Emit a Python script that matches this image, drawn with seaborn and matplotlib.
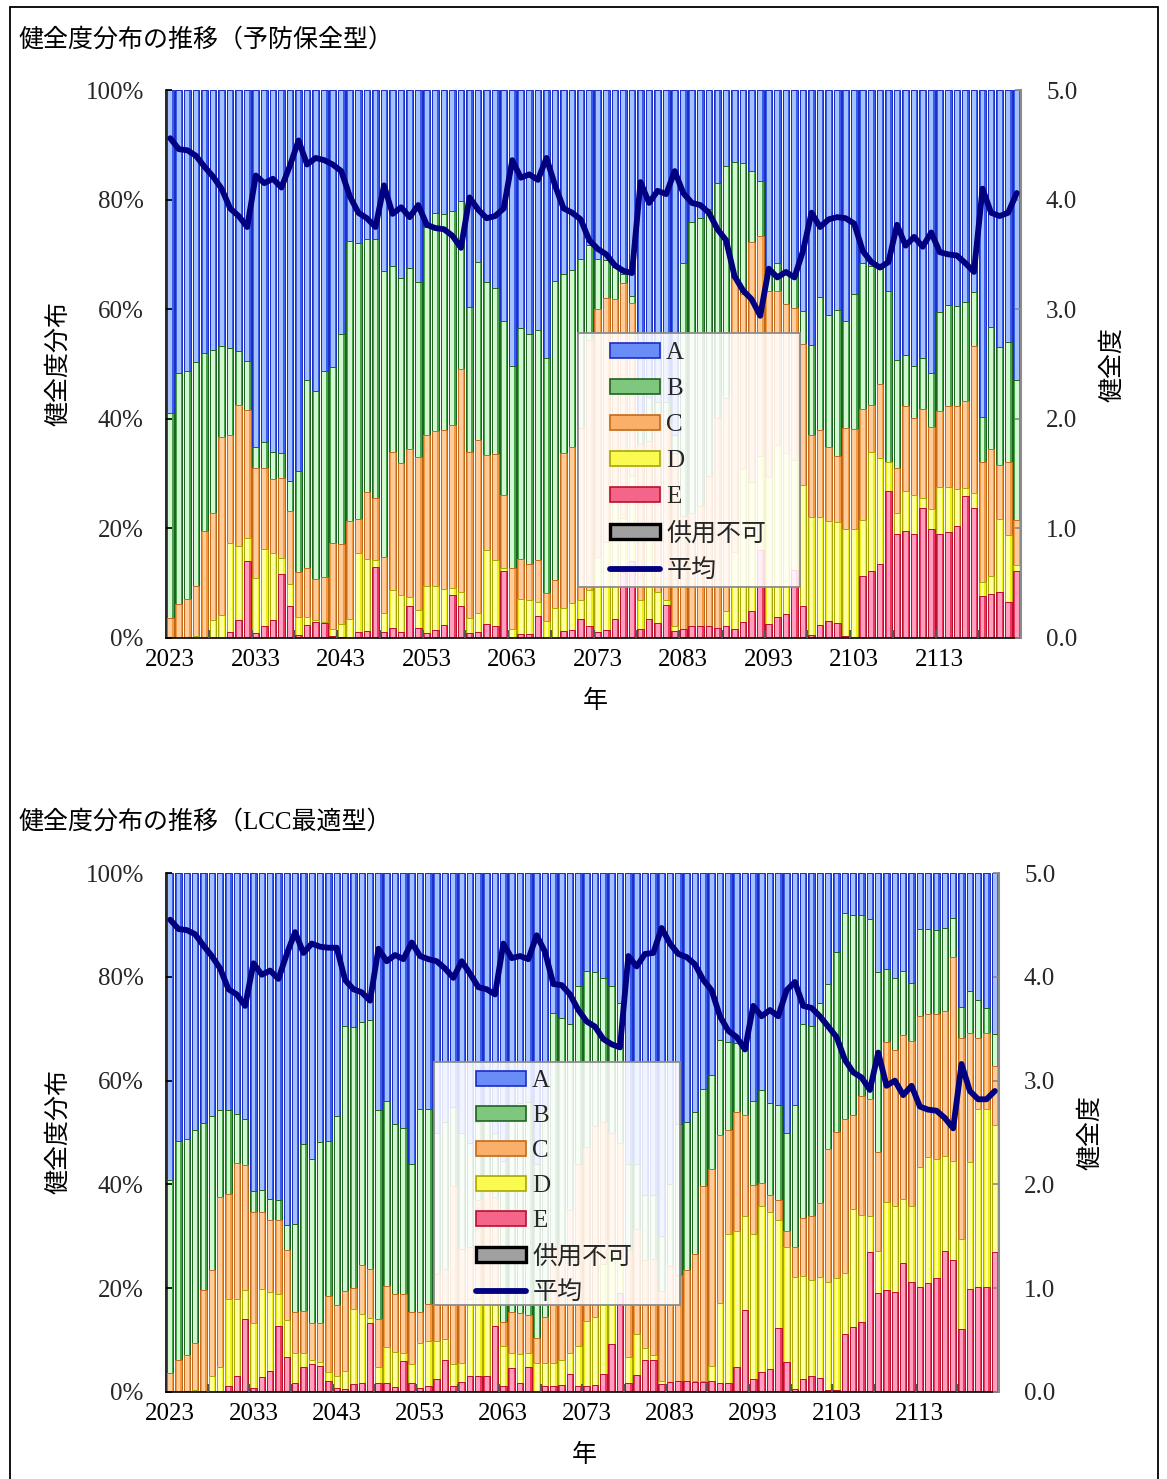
import numpy as np
import pandas as pd
import matplotlib
matplotlib.use("Agg")
import matplotlib.pyplot as plt
from matplotlib.patches import Patch, Rectangle
from matplotlib.lines import Line2D
from matplotlib.ticker import FixedLocator
import seaborn as sns

sns.set_theme(style="white")
plt.rcParams['font.family'] = ['Liberation Serif', 'Noto Sans CJK JP', 'DejaVu Sans']
plt.rcParams['axes.unicode_minus'] = False

# ---------------- data ----------------
years = list(range(2023, 2123))
grades = ["A", "B", "C", "D", "E"]
xtick_years = [2023, 2033, 2043, 2053, 2063, 2073, 2083, 2093, 2103, 2113]
pct_ticks = [0, 20, 40, 60, 80, 100]
pct_labels = ["0%", "20%", "40%", "60%", "80%", "100%"]
mean_ticks = [0, 1, 2, 3, 4, 5]
mean_labels = ["0.0", "1.0", "2.0", "3.0", "4.0", "5.0"]
legend_labels = ["A", "B", "C", "D", "E", "供用不可", "平均"]
title_pm = "健全度分布の推移（予防保全型）"
title_lcc = "健全度分布の推移（LCC最適型）"

# 予防保全型 (shares, %)
pm_A = [59.0, 51.7, 51.2, 49.6, 48.0, 47.5, 46.7, 47.1, 47.7, 49.5,
        65.1, 64.3, 66.1, 66.3, 71.4, 69.6, 52.9, 55.0, 51.3, 50.5,
        44.6, 27.6, 28.0, 27.2, 27.1, 33.1, 32.2, 34.3, 32.5, 35.1,
        25.0, 22.5, 22.7, 22.1, 20.2, 39.6, 31.4, 35.1, 36.1, 42.1,
        50.3, 43.4, 44.6, 43.8, 48.9, 34.9, 33.5, 32.8, 30.8, 28.3,
        30.8, 31.1, 32.3, 33.6, 37.6, 60.0, 56.0, 57.0, 57.0, 63.0,
        31.6, 24.1, 23.3, 21.7, 17.0, 13.9, 13.1, 13.4, 14.7, 16.6,
        32.3, 31.5, 33.0, 34.0, 40.4, 46.6, 37.8, 41.1, 40.1, 42.1,
        37.3, 31.6, 32.1, 32.6, 36.6, 49.3, 48.4, 50.4, 48.9, 51.7,
        40.6, 39.3, 39.4, 38.7, 36.9, 59.7, 43.2, 46.9, 45.9, 52.9]
pm_B = [37.4, 42.1, 41.6, 40.9, 32.4, 29.6, 16.6, 15.9, 9.8, 8.9,
        3.9, 4.7, 4.9, 4.5, 5.5, 18.4, 34.4, 34.2, 37.6, 32.2,
        38.3, 51.1, 50.2, 46.2, 47.3, 52.2, 33.9, 33.8, 33.1, 31.8,
        37.9, 39.8, 39.4, 39.0, 30.7, 26.5, 32.4, 31.5, 30.3, 31.8,
        37.0, 42.1, 41.9, 41.9, 42.9, 54.6, 32.7, 32.3, 30.8, 17.3,
        9.2, 6.8, 5.8, 1.7, 1.3, 4.6, 8.0, 5.1, 4.0, 3.3,
        46.2, 53.0, 52.6, 48.8, 42.8, 42.3, 21.2, 23.9, 13.0, 10.1,
        4.3, 5.1, 6.1, 5.8, 6.0, 16.4, 24.3, 24.0, 26.7, 19.5,
        24.6, 26.6, 25.4, 21.1, 31.2, 19.7, 9.3, 9.4, 9.4, 9.8,
        17.9, 18.4, 18.3, 18.1, 9.8, 8.2, 22.4, 21.5, 21.9, 25.6]
pm_C = [3.6, 6.2, 7.2, 9.1, 19.6, 19.7, 32.5, 19.7, 25.7, 23.4,
        20.1, 14.8, 13.5, 14.6, 13.3, 8.2, 8.9, 7.6, 8.1, 15.7,
        14.5, 17.9, 6.2, 12.1, 11.4, 10.1, 25.1, 24.1, 27.0, 27.9,
        27.7, 28.3, 28.9, 29.7, 40.7, 30.3, 31.7, 17.4, 19.3, 13.3,
        11.1, 7.3, 6.6, 7.8, 5.1, 5.1, 28.4, 28.5, 31.4, 45.7,
        45.3, 44.5, 34.9, 42.8, 31.6, 28.5, 16.4, 29.5, 32.0, 31.6,
        20.5, 20.8, 22.0, 27.4, 38.3, 38.8, 50.0, 31.9, 43.8, 40.0,
        34.0, 28.1, 27.2, 27.8, 25.7, 14.9, 15.8, 13.5, 12.1, 18.6,
        18.3, 20.3, 8.6, 13.4, 0.0, 8.2, 15.5, 14.1, 16.1, 15.0,
        14.0, 14.8, 15.2, 15.9, 26.9, 21.8, 23.1, 9.8, 13.4, 8.2]
pm_D = [0.0, 0.0, 0.0, 0.4, 0.0, 3.2, 4.2, 16.2, 13.6, 4.2,
        10.0, 14.0, 12.2, 2.9, 4.0, 3.3, 1.4, 0.2, 0.3, 1.2,
        2.4, 3.4, 14.5, 13.2, 1.2, 3.5, 6.9, 6.7, 1.6, 3.3,
        8.5, 8.0, 6.6, 1.4, 2.6, 2.7, 3.4, 13.5, 12.1, 0.6,
        1.6, 6.5, 6.2, 2.5, 3.1, 5.4, 4.2, 4.9, 3.6, 6.5,
        13.6, 16.2, 23.6, 9.9, 15.5, 5.2, 16.2, 5.7, 1.0, 0.9,
        0.0, 0.0, 0.0, 0.0, 0.0, 2.9, 14.0, 27.9, 23.6, 17.3,
        26.9, 31.5, 29.3, 20.0, 22.0, 21.5, 19.7, 18.3, 18.4, 19.4,
        19.8, 10.2, 21.6, 19.4, 5.3, 3.8, 7.2, 7.1, 1.8, 3.7,
        8.5, 8.1, 6.7, 1.4, 2.6, 2.6, 3.3, 13.4, 12.2, 1.0]
pm_E = [0.0, 0.0, 0.0, 0.0, 0.0, 0.0, 0.0, 1.1, 3.2, 14.0,
        0.9, 2.2, 3.3, 11.7, 5.8, 0.5, 2.4, 3.0, 2.7, 0.4,
        0.2, 0.0, 1.1, 1.3, 13.0, 1.1, 1.9, 1.1, 5.8, 1.9,
        0.9, 1.4, 2.4, 7.8, 5.8, 0.9, 1.1, 2.5, 2.2, 12.2,
        0.0, 0.7, 0.7, 4.0, 0.0, 0.0, 1.2, 1.5, 3.4, 2.2,
        1.1, 1.4, 3.4, 12.0, 14.0, 1.7, 3.4, 2.7, 6.0, 1.2,
        1.7, 2.1, 2.1, 2.1, 1.9, 2.1, 1.7, 2.9, 4.9, 16.0,
        2.5, 3.8, 4.4, 12.4, 5.9, 0.6, 2.4, 3.1, 2.7, 0.4,
        0.0, 11.3, 12.3, 13.5, 26.9, 19.0, 19.6, 19.0, 23.8, 19.8,
        19.0, 19.4, 20.4, 25.9, 23.8, 7.7, 8.0, 8.4, 6.6, 12.3]
pm_mean = [4.56, 4.46, 4.45, 4.40, 4.30, 4.21, 4.10, 3.92, 3.85, 3.75,
           4.22, 4.15, 4.19, 4.11, 4.31, 4.54, 4.32, 4.38, 4.36, 4.32,
           4.26, 4.03, 3.88, 3.83, 3.75, 4.13, 3.87, 3.93, 3.84, 3.95,
           3.77, 3.74, 3.73, 3.67, 3.56, 4.02, 3.91, 3.83, 3.85, 3.92,
           4.36, 4.20, 4.23, 4.18, 4.38, 4.13, 3.92, 3.88, 3.82, 3.63,
           3.55, 3.50, 3.40, 3.35, 3.33, 4.16, 3.97, 4.08, 4.05, 4.26,
           4.06, 3.97, 3.95, 3.88, 3.73, 3.63, 3.30, 3.17, 3.09, 2.94,
           3.37, 3.29, 3.34, 3.29, 3.53, 3.88, 3.75, 3.82, 3.84, 3.83,
           3.78, 3.53, 3.43, 3.38, 3.43, 3.77, 3.58, 3.66, 3.57, 3.70,
           3.52, 3.50, 3.49, 3.42, 3.34, 4.10, 3.88, 3.85, 3.88, 4.06]

# LCC最適型 (shares, %)
lcc_A = [59.1, 51.7, 51.2, 49.6, 48.1, 46.8, 45.7, 45.7, 46.4, 47.4,
         61.3, 61.1, 62.8, 63.0, 67.8, 67.6, 52.3, 55.1, 51.9, 51.6,
         46.9, 29.5, 29.7, 28.7, 28.3, 45.6, 43.9, 48.4, 49.1, 56.1,
         45.4, 45.4, 50.0, 48.0, 45.0, 50.0, 52.0, 48.0, 47.0, 50.0,
         55.4, 45.7, 44.4, 44.1, 56.0, 45.0, 26.9, 28.0, 29.0, 21.8,
         18.9, 19.0, 20.2, 21.8, 25.1, 56.0, 56.0, 62.0, 62.0, 70.0,
         60.0, 48.4, 47.9, 46.1, 41.6, 38.9, 32.2, 32.6, 32.7, 34.2,
         43.9, 41.8, 44.4, 44.7, 50.1, 44.7, 29.0, 29.5, 25.0, 21.3,
         15.3, 7.8, 8.0, 8.0, 8.8, 19.0, 18.5, 20.3, 18.9, 21.1,
         10.8, 10.8, 11.0, 10.6, 8.6, 25.8, 22.7, 24.5, 26.0, 31.0]
lcc_B = [37.3, 42.2, 41.6, 40.9, 32.2, 29.7, 16.7, 16.1, 9.5, 8.8,
         4.0, 4.2, 4.1, 3.8, 4.8, 16.9, 32.1, 31.7, 34.9, 29.9,
         36.3, 51.0, 50.2, 46.8, 48.0, 40.4, 35.6, 32.7, 32.0, 28.5,
         39.2, 37.6, 27.3, 28.3, 15.4, 22.4, 20.1, 15.0, 14.0, 12.5,
         31.1, 38.8, 40.4, 41.1, 33.5, 40.6, 45.8, 43.4, 36.0, 34.3,
         33.9, 29.8, 27.8, 28.2, 26.9, 16.6, 12.5, 12.6, 12.3, 10.6,
         15.8, 29.1, 28.6, 27.4, 18.8, 18.2, 18.2, 17.0, 13.4, 12.5,
         16.2, 18.0, 17.7, 18.3, 18.9, 27.4, 37.4, 36.6, 38.6, 31.9,
         34.6, 39.6, 38.7, 34.9, 34.8, 34.7, 14.0, 13.9, 12.3, 11.3,
         16.7, 16.4, 16.2, 15.9, 7.6, 5.9, 8.2, 7.2, 4.9, 6.2]
lcc_C = [3.6, 6.1, 7.1, 9.2, 19.7, 20.4, 32.7, 20.2, 26.1, 24.1,
         21.5, 14.8, 13.8, 14.3, 13.6, 8.0, 8.1, 7.1, 7.4, 14.7,
         13.7, 15.4, 4.1, 9.5, 9.4, 9.2, 11.9, 11.1, 11.4, 10.1,
         6.0, 7.2, 12.9, 13.5, 34.3, 22.1, 9.9, 19.0, 22.0, 20.8,
         4.7, 8.0, 7.8, 7.3, 5.0, 8.9, 21.8, 22.5, 27.5, 35.1,
         33.6, 36.7, 27.3, 22.4, 21.9, 20.6, 20.3, 16.9, 18.5, 17.3,
         22.3, 20.4, 21.4, 24.4, 37.5, 37.8, 32.4, 19.9, 22.9, 19.4,
         9.5, 4.4, 3.3, 3.9, 3.1, 5.7, 11.3, 12.4, 14.2, 25.6,
         28.2, 29.7, 18.1, 22.9, 22.5, 19.1, 30.9, 30.0, 31.7, 31.8,
         29.1, 27.5, 27.9, 28.0, 39.2, 38.9, 24.8, 13.7, 14.5, 11.3]
lcc_D = [0.0, 0.0, 0.1, 0.3, 0.0, 3.1, 4.9, 16.9, 14.9, 5.7,
         12.4, 17.1, 15.2, 6.1, 7.0, 5.7, 2.6, 0.8, 0.7, 1.7,
         2.3, 3.6, 14.5, 13.2, 1.1, 3.0, 6.8, 6.9, 1.5, 3.5,
         8.7, 8.7, 7.3, 4.1, 4.2, 3.6, 14.9, 15.0, 14.0, 3.9,
         7.7, 2.8, 5.6, 2.7, 5.5, 4.4, 4.4, 4.8, 4.0, 7.7,
         12.5, 13.2, 21.2, 18.4, 7.1, 5.0, 7.9, 2.4, 1.1, 0.6,
         0.0, 0.0, 0.0, 0.1, 0.1, 3.0, 15.4, 28.7, 26.1, 18.1,
         27.9, 32.0, 30.1, 20.8, 22.1, 21.7, 19.8, 18.4, 19.5, 20.9,
         21.6, 11.7, 22.7, 20.7, 7.0, 8.2, 16.9, 16.5, 12.2, 14.6,
         23.1, 24.3, 23.0, 18.3, 19.1, 17.2, 24.4, 34.4, 34.3, 24.6]
lcc_E = [0.0, 0.0, 0.0, 0.0, 0.0, 0.0, 0.0, 1.1, 3.1, 14.0,
         0.8, 2.8, 4.1, 12.8, 6.8, 1.8, 4.9, 5.3, 5.1, 2.1,
         0.8, 0.5, 1.5, 1.8, 13.2, 1.8, 1.8, 0.9, 6.0, 1.8,
         0.7, 1.1, 2.5, 6.1, 1.1, 1.9, 3.1, 3.0, 3.0, 12.8,
         1.1, 4.7, 1.8, 4.8, 0.0, 1.1, 1.1, 1.3, 3.5, 1.1,
         1.1, 1.3, 3.5, 9.2, 19.0, 1.8, 3.3, 6.1, 6.1, 1.5,
         1.9, 2.1, 2.1, 2.0, 2.0, 2.1, 1.8, 1.8, 4.9, 15.8,
         2.5, 3.8, 4.5, 12.3, 5.8, 0.5, 2.5, 3.1, 2.7, 0.3,
         0.3, 11.2, 12.5, 13.5, 26.9, 19.0, 19.7, 19.3, 24.9, 21.2,
         20.3, 21.0, 21.9, 27.2, 25.5, 12.2, 19.9, 20.2, 20.3, 26.9]
lcc_mean = [4.55, 4.46, 4.45, 4.41, 4.30, 4.20, 4.08, 3.88, 3.83, 3.72,
            4.13, 4.02, 4.06, 3.98, 4.22, 4.43, 4.23, 4.32, 4.29, 4.28,
            4.28, 3.97, 3.88, 3.85, 3.77, 4.27, 4.15, 4.21, 4.17, 4.33,
            4.20, 4.17, 4.15, 4.08, 3.99, 4.15, 4.03, 3.90, 3.88, 3.83,
            4.32, 4.18, 4.20, 4.17, 4.40, 4.24, 3.93, 3.92, 3.83, 3.68,
            3.57, 3.52, 3.40, 3.35, 3.32, 4.20, 4.10, 4.22, 4.23, 4.47,
            4.32, 4.22, 4.19, 4.12, 3.97, 3.87, 3.62, 3.48, 3.42, 3.30,
            3.72, 3.62, 3.68, 3.62, 3.87, 3.95, 3.72, 3.70, 3.62, 3.52,
            3.42, 3.20, 3.08, 3.03, 2.91, 3.27, 2.95, 3.00, 2.86, 2.95,
            2.75, 2.72, 2.71, 2.64, 2.54, 3.16, 2.90, 2.82, 2.82, 2.90]

# ---------------- style ----------------
W, H = 1167, 1479
FS = 18
outer_col = {"A": "#3A5CEC", "B": "#47A347", "C": "#F39A40", "D": "#EFEF18", "E": "#EE3560"}
inner_col = {"A": "#A3C0FF", "B": "#D2F8D2", "C": "#FFCD9C", "D": "#FFFFA0", "E": "#FF9EBE"}
edge_col = {"A": "#1A2CC8", "B": "#1E641E", "C": "#C46A1A", "D": "#A8A800", "E": "#B8102E"}
legend_face = {"A": "#6A8CF6", "B": "#7FC67F", "C": "#FAB068", "D": "#FAFA50", "E": "#F5658A"}
navy = "#000080"

fig = plt.figure(figsize=(W / 100, H / 100), dpi=100)
fig.patch.set_facecolor("white")


def add_axes_px(l, t, r, b):
    return fig.add_axes([l / W, 1 - b / H, (r - l) / W, (b - t) / H])


def px_to_axes(ax_px, x, y):
    l, t, r, b = ax_px
    return (x - l) / (r - l), (b - y) / (b - t)


def draw_panel(ax_px, shares, mean, box_px, handle_xy, spacing):
    ax = add_axes_px(*ax_px)
    df = pd.DataFrame({"year": years})
    for g, vals in zip(grades, shares):
        df[g] = vals
    cum = df[grades[::-1]].cumsum(axis=1)  # E, E+D, E+D+C, ...
    for g in grades:  # tallest stack (A) first, then overlay
        common = dict(x=df["year"], y=cum[g], native_scale=True, errorbar=None,
                      saturation=1, ax=ax)
        sns.barplot(**common, width=0.78, color=outer_col[g], linewidth=0, edgecolor="none")
        sns.barplot(**common, width=0.46, color=inner_col[g], linewidth=0, edgecolor="none")
        sns.barplot(**common, width=0.78, color=edge_col[g], fill=False, linewidth=0.7)

    ax.set_xlim(2022.5, 2122.5)
    ax.set_ylim(0, 100)
    ax.set_xticks(xtick_years)
    ax.set_xticklabels([str(y) for y in xtick_years])
    ax.xaxis.set_minor_locator(FixedLocator(np.arange(2027.5, 2122.5, 5)))
    ax.set_yticks(pct_ticks)
    ax.set_yticklabels(pct_labels)
    ax.yaxis.set_minor_locator(FixedLocator([20, 40, 60, 80]))
    ax.tick_params(axis="x", which="major", length=0, pad=8, labelsize=FS, colors="black")
    ax.tick_params(axis="x", which="minor", direction="in", length=6, width=1.5,
                   color="#555555", bottom=True)
    ax.tick_params(axis="y", which="major", direction="in", length=4, pad=16,
                   labelsize=FS, left=True, color="black")
    ax.tick_params(axis="y", which="minor", length=0)
    ax.grid(False)
    ax.yaxis.grid(True, which="minor", linestyle=(0, (4, 3)), color="#6e6e6e", linewidth=1.1)
    ax.set_axisbelow(False)
    for s in ["top", "right"]:
        ax.spines[s].set_visible(False)
    for s in ["left", "bottom"]:
        ax.spines[s].set_color("black")
        ax.spines[s].set_linewidth(1.2)
    ax.set_xlabel("")
    ax.set_ylabel("")

    ax2 = ax.twinx()
    sns.lineplot(x=df["year"], y=mean, ax=ax2, color=navy, linewidth=4.2,
                 solid_joinstyle="round", solid_capstyle="round")
    ax2.set_xlim(2022.5, 2122.5)
    ax2.set_ylim(0, 5)
    ax2.set_yticks(mean_ticks)
    ax2.set_yticklabels(mean_labels)
    ax2.tick_params(axis="y", direction="in", length=4, color="#8c8c8c", pad=18,
                    labelsize=FS, right=True, left=False)
    ax2.grid(False)
    for s in ["top", "left", "bottom"]:
        ax2.spines[s].set_visible(False)
    ax2.spines["right"].set_color("#8c8c8c")
    ax2.spines["right"].set_linewidth(1.5)
    ax2.set_xlabel("")
    ax2.set_ylabel("")

    # legend box
    bx0, by0 = px_to_axes(ax_px, box_px[0], box_px[3])
    bx1, by1 = px_to_axes(ax_px, box_px[2], box_px[1])
    ax2.add_patch(Rectangle((bx0, by0), bx1 - bx0, by1 - by0, transform=ax2.transAxes,
                            facecolor=(1, 1, 1, 0.86), edgecolor="#8c8c8c",
                            linewidth=1.3, zorder=5, clip_on=False))
    handles = [Patch(facecolor=legend_face[g], edgecolor=edge_col[g], linewidth=1.2) for g in grades]
    handles.append(Patch(facecolor="#a0a0a0", edgecolor="black", linewidth=2.4))
    handles.append(Line2D([], [], color=navy, linewidth=4.2, solid_capstyle="round"))
    hx, hy = px_to_axes(ax_px, *handle_xy)
    leg = ax2.legend(handles, legend_labels, loc="upper left", bbox_to_anchor=(hx, hy),
                     bbox_transform=ax2.transAxes, frameon=False, fontsize=FS,
                     handlelength=2.0, handleheight=0.55, handletextpad=0.25,
                     labelspacing=spacing, borderpad=0, borderaxespad=0)
    leg.set_zorder(6)
    return ax, ax2


# top panel
draw_panel((166, 90, 1021, 638), [pm_A, pm_B, pm_C, pm_D, pm_E], pm_mean,
           (578, 333, 800, 587), (610, 342), 0.56)
# bottom panel
draw_panel((166, 873, 999, 1392), [lcc_A, lcc_B, lcc_C, lcc_D, lcc_E], lcc_mean,
           (434, 1062, 680, 1305), (476, 1070), 0.52)


def ftext(x, y, s, **kw):
    fig.text(x / W, 1 - y / H, s, fontsize=FS, color="black", **kw)


ftext(18, 40, title_pm, ha="left", va="center")
ftext(58, 364, "健全度分布", ha="center", va="center", rotation=90)
ftext(1112, 364, "健全度", ha="center", va="center", rotation=90)
ftext(595, 701, "年", ha="center", va="center")

ftext(18, 822, title_lcc, ha="left", va="center")
ftext(58, 1132, "健全度分布", ha="center", va="center", rotation=90)
ftext(1090, 1132, "健全度", ha="center", va="center", rotation=90)
ftext(584, 1455, "年", ha="center", va="center")

# outer frame
fig.add_artist(Rectangle((9.5 / W, -0.02), (1158 - 9.5) / W, 1.02 - 7 / H,
                         transform=fig.transFigure, fill=False, edgecolor="black",
                         linewidth=1.3, clip_on=False))

fig.savefig("out.png", dpi=100, facecolor="white")
